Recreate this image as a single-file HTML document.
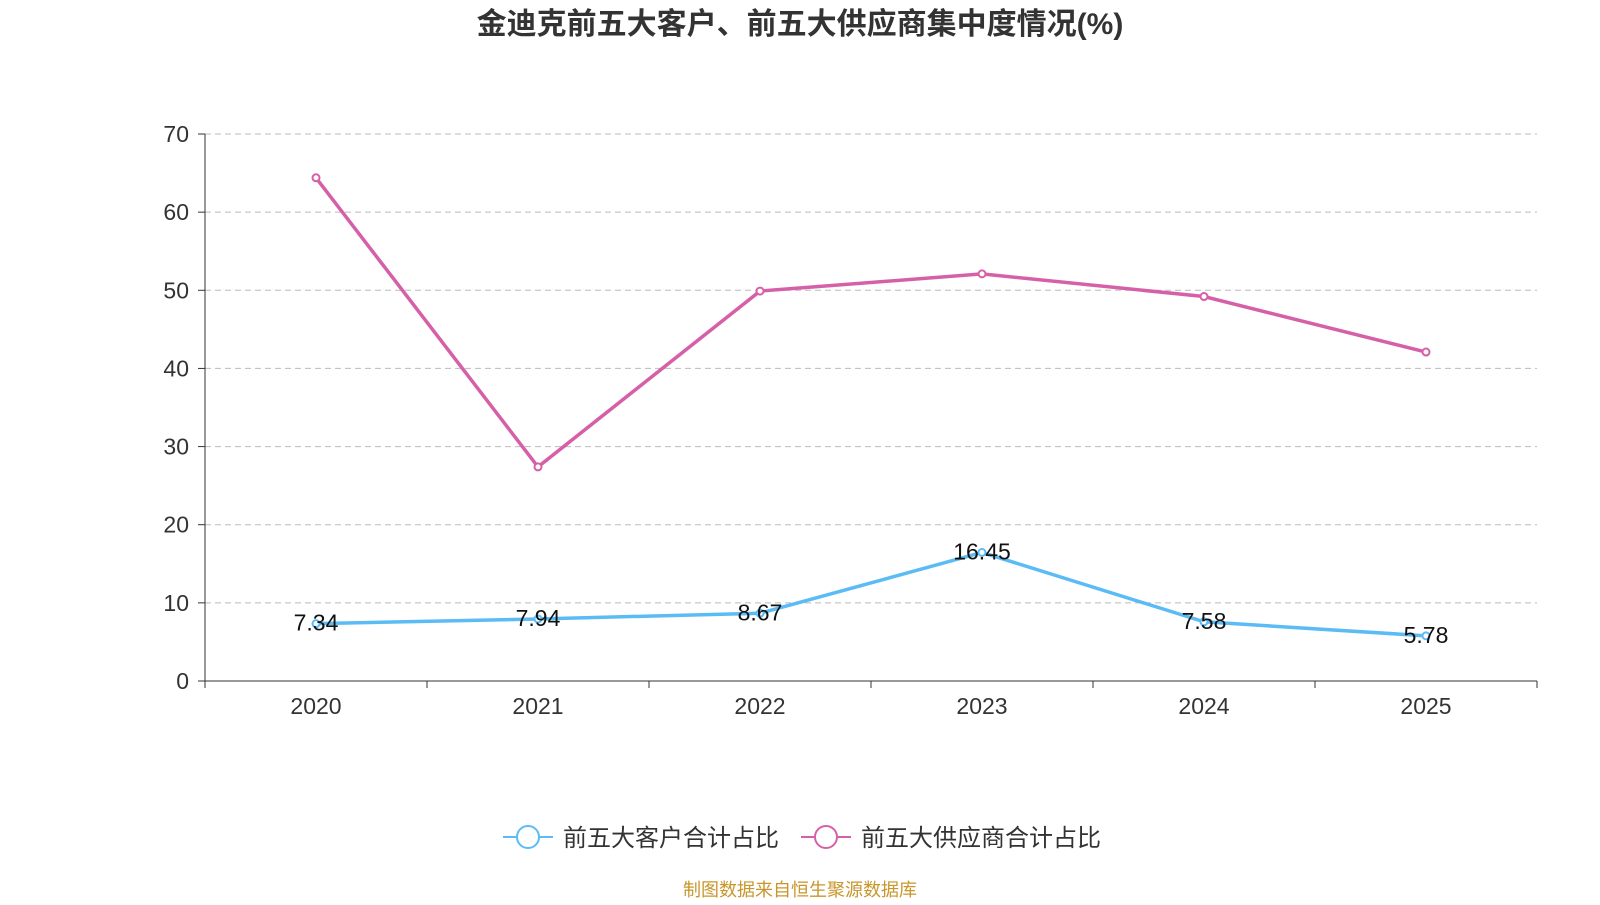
<!DOCTYPE html>
<html><head><meta charset="utf-8"><style>
body{margin:0;background:#fff;font-family:"Liberation Sans","Noto Sans CJK SC",sans-serif}
</style></head><body>
<svg width="1600" height="900" xmlns="http://www.w3.org/2000/svg" font-family="Liberation Sans, Noto Sans CJK SC, sans-serif">
<text x="800" y="34" text-anchor="middle" font-size="30" font-weight="bold" fill="#333">金迪克前五大客户、前五大供应商集中度情况(%)</text>
<g id="grid"></g><g id="axes"></g><g id="series"></g>
<g>
<g>
<line x1="503" y1="837" x2="553" y2="837" stroke="#5bbcf5" stroke-width="2"/><circle cx="528" cy="837" r="11" fill="#fff" stroke="#5bbcf5" stroke-width="2"/>
<text x="563" y="846" font-size="24" fill="#333">前五大客户合计占比</text></g>
<g>
<line x1="801" y1="837" x2="851" y2="837" stroke="#d660a8" stroke-width="2"/><circle cx="826" cy="837" r="11" fill="#fff" stroke="#d660a8" stroke-width="2"/>
<text x="861" y="846" font-size="24" fill="#333">前五大供应商合计占比</text></g>
</g>
<text x="800" y="896" text-anchor="middle" font-size="18" fill="#c8962a">制图数据来自恒生聚源数据库</text>
</svg>
<script>
const categories=["2020","2021","2022","2023","2024","2025"];
const customerValues=[7.34,7.94,8.67,16.45,7.58,5.78];
const supplierValues=[64.4,27.4,49.9,52.1,49.2,42.1];
const yTicks=[0,10,20,30,40,50,60,70];
const NS="http://www.w3.org/2000/svg";
const x0=205,x1=1537,yTop=134,yBot=681,yMax=70;
const bw=(x1-x0)/categories.length;
const xs=i=>x0+bw*(i+0.5);
const ys=v=>yBot-(v/yMax)*(yBot-yTop);
function mk(p,t,a){const e=document.createElementNS(NS,t);for(const k in a)e.setAttribute(k,a[k]);p.appendChild(e);return e;}
const grid=document.getElementById('grid'),axes=document.getElementById('axes'),ser=document.getElementById('series');
yTicks.forEach(v=>{
 if(v>0){const l=mk(grid,'line',{x1:x0,x2:x1,y1:ys(v),y2:ys(v),stroke:'#bbb','stroke-dasharray':'6,4'});
 
 }
 mk(axes,'line',{x1:x0-7,x2:x0,y1:ys(v),y2:ys(v),stroke:'#333'});
 const t=mk(axes,'text',{x:x0-16,y:ys(v)+8,'text-anchor':'end','font-size':23,fill:'#333'});t.textContent=v;
 
 
});
mk(axes,'line',{x1:x0,x2:x0,y1:yTop,y2:yBot,stroke:'#333'});
mk(axes,'line',{x1:x0,x2:x1,y1:yBot,y2:yBot,stroke:'#333'});
for(let i=0;i<=categories.length;i++)mk(axes,'line',{x1:x0+bw*i,x2:x0+bw*i,y1:yBot,y2:yBot+7,stroke:'#333'});
categories.forEach((c,i)=>{const t=mk(axes,'text',{x:xs(i),y:yBot+33,'text-anchor':'middle','font-size':23,fill:'#333'});t.textContent=c;
 
 });
function series(vals,color,name,labels){
 const p=mk(ser,'polyline',{points:vals.map((v,i)=>xs(i)+','+ys(v)).join(' '),fill:'none',stroke:color,'stroke-width':3.5});
 
 
 vals.forEach((v,i)=>{const c=mk(ser,'circle',{cx:xs(i),cy:ys(v),r:3.5,fill:'#fff',stroke:color,'stroke-width':2});
  
  
  if(labels){const t=mk(ser,'text',{x:xs(i),y:ys(v)+7,'text-anchor':'middle','font-size':23,fill:'#111'});t.textContent=v.toFixed(2);
   
   }
 });
}
series(supplierValues,'#d660a8','supplier',false);
series(customerValues,'#5bbcf5','customer',true);
</script>
</body></html>
